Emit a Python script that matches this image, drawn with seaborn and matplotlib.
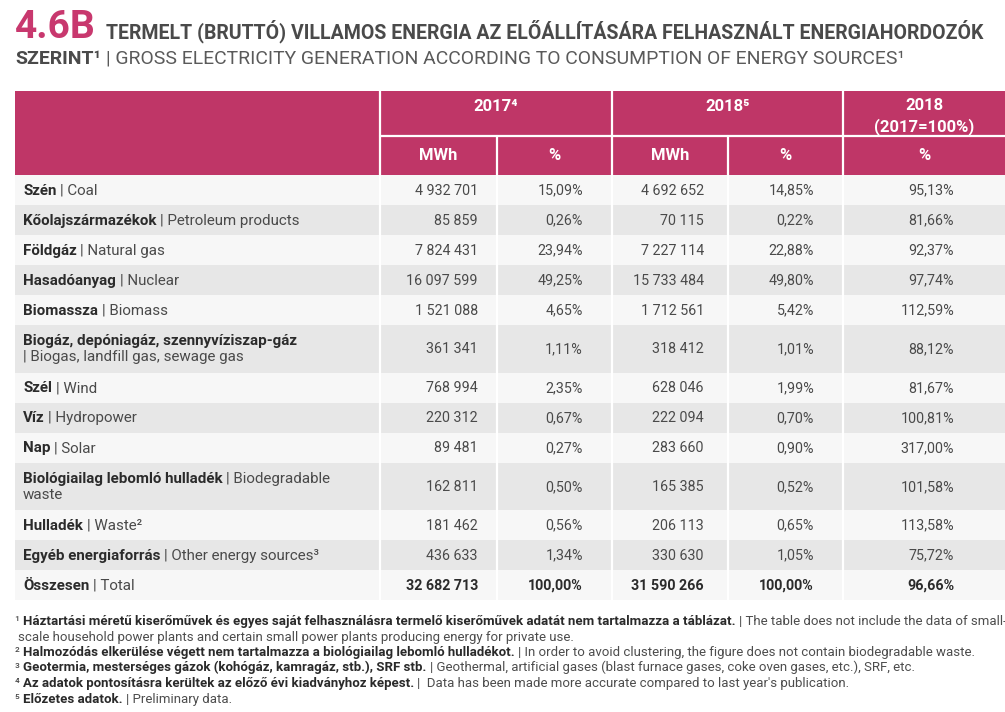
import matplotlib
matplotlib.use("Agg")
import matplotlib.pyplot as plt
import seaborn as sns
from matplotlib.patches import Rectangle

# --- data ---------------------------------------------------------------
sources_hu = ["Szén", "Kőolajszármazékok", "Földgáz", "Hasadóanyag", "Biomassza",
              "Biogáz, depóniagáz, szennyvíziszap-gáz", "Szél", "Víz", "Nap",
              "Biológiailag lebomló hulladék", "Hulladék", "Egyéb energiaforrás", "Összesen"]
sources_en = ["Coal", "Petroleum products", "Natural gas", "Nuclear", "Biomass",
              "\nBiogas, landfill gas, sewage gas", "Wind", "Hydropower", "Solar",
              "Biodegradable\nwaste", "Waste²", "Other energy sources³", "Total"]
mwh_2017 = [4932701, 85859, 7824431, 16097599, 1521088, 361341, 768994, 220312,
            89481, 162811, 181462, 436633, 32682713]
pct_2017 = [15.09, 0.26, 23.94, 49.25, 4.65, 1.11, 2.35, 0.67, 0.27, 0.50, 0.56, 1.34, 100.00]
mwh_2018 = [4692652, 70115, 7227114, 15733484, 1712561, 318412, 628046, 222094,
            283660, 165385, 206113, 330630, 31590266]
pct_2018 = [14.85, 0.22, 22.88, 49.80, 5.42, 1.01, 1.99, 0.70, 0.90, 0.52, 0.65, 1.05, 100.00]
index_2018 = [95.13, 81.66, 92.37, 97.74, 112.59, 88.12, 81.67, 100.81, 317.00,
              101.58, 113.58, 75.72, 96.66]

year_heads = ["2017⁴", "2018⁵", "2018\n(2017=100%)"]
unit_heads = ["MWh", "%", "MWh", "%", "%"]

title_no = "4.6B"
title_hu = "TERMELT (BRUTTÓ) VILLAMOS ENERGIA AZ ELŐÁLLÍTÁSÁRA FELHASZNÁLT ENERGIAHORDOZÓK"
title_hu2 = "SZERINT¹"
title_en = "GROSS ELECTRICITY GENERATION ACCORDING TO CONSUMPTION OF ENERGY SOURCES¹"

note_marks = ["¹", "²", "³", "⁴", "⁵"]
note_hu = ["Háztartási méretű kiserőművek és egyes saját felhasználásra termelő kiserőművek adatát nem tartalmazza a táblázat.",
           "Halmozódás elkerülése végett nem tartalmazza a biológiailag lebomló hulladékot.",
           "Geotermia, mesterséges gázok (kohógáz, kamragáz, stb.), SRF stb.",
           "Az adatok pontosításra kerültek az előző évi kiadványhoz képest.",
           "Előzetes adatok."]
note_en = ["The table does not include the data of small-\nscale household power plants and certain small power plants producing energy for private use.",
           "In order to avoid clustering, the figure does not contain biodegradable waste.",
           "Geothermal, artificial gases (blast furnace gases, coke oven gases, etc.), SRF, etc.",
           " Data has been made more accurate compared to last year's publication.",
           "Preliminary data."]

# --- style --------------------------------------------------------------
sns.set_theme(style="white")
BODY = ["Roboto", "DejaVu Sans"]
NARROW = ["Liberation Sans Narrow", "Roboto", "DejaVu Sans"]
plt.rcParams["font.family"] = BODY

PINK = "#bf3667"
TITLE_PINK = "#c8386e"
DARK = "#2b2b2b"
GREY = "#4a4a4a"
ROW_LIGHT = "#f7f7f7"
ROW_DARK = "#e7e7e7"


def fmt_int(v):
    return f"{v:,}".replace(",", " ")


def fmt_pct(v):
    return f"{v:.2f}".replace(".", ",") + "%"


fig = plt.figure(figsize=(10.05, 7.12), dpi=100)
ax = fig.add_axes([0, 0, 1, 1])
ax.set_xlim(0, 1005)
ax.set_ylim(712, 0)
ax.axis("off")
renderer = fig.canvas.get_renderer()


def space_w(size, **kw):
    a = ax.text(0, 0, "x x", fontsize=size, **kw)
    b = ax.text(0, 0, "xx", fontsize=size, **kw)
    w = a.get_window_extent(renderer).width - b.get_window_extent(renderer).width
    a.remove()
    b.remove()
    return w


def draw_runs(x0, y, parts, size, line_h):
    # parts: list of (text, kwargs); "\n" starts a new line at x0, leading space -> gap
    x = x0
    drawn = []
    for text, kw in parts:
        for i, seg in enumerate(text.split("\n")):
            if i > 0:
                x = x0
                y += line_h
            if seg.startswith(" "):
                x += space_w(size, **kw) * (len(seg) - len(seg.lstrip(" ")))
                seg = seg.lstrip(" ")
            if seg:
                t = ax.text(x, y, seg, fontsize=size, va="baseline", ha="left", **kw)
                x += t.get_window_extent(renderer).width
                drawn.append(t)
    return drawn, x


def fit_runs(x0, y, parts, size, line_h, x_end):
    drawn, x = draw_runs(x0, y, parts, size, line_h)
    for t in drawn:
        t.remove()
    size = size * (x_end - x0) / (x - x0)
    draw_runs(x0, y, parts, size, line_h)
    return size


# --- title --------------------------------------------------------------
ax.text(15, 38, title_no, fontsize=28, fontweight="bold", color=TITLE_PINK,
        family=BODY, va="baseline")
fit_runs(106, 38, [(title_hu, dict(fontweight="bold", color=GREY, family=NARROW))],
         13, 20, 980)
fit_runs(15, 64, [(title_hu2, dict(fontweight="bold", color=GREY, family=NARROW)),
                  (" | " + title_en, dict(color="#5a5a5a", family=NARROW))],
         13, 20, 903)

# --- table geometry -------------------------------------------------------
col_x = [15, 380, 497, 612, 728, 843, 1005]
num_right = [478, 583, 704, 814, 954]
head_top, head_mid, head_bot = 91, 135.5, 175
single_h, double_h = 30, 47.5

row_tops = []
row_hs = []
y = head_bot
for en in sources_en:
    h = double_h if "\n" in en else single_h
    row_tops.append(y)
    row_hs.append(h)
    y += h
table_bot = y

# header block
ax.add_patch(Rectangle((col_x[0], head_top), col_x[-1] - col_x[0], head_bot - head_top,
                       facecolor=PINK, edgecolor="none"))
# body stripes
for i, (top, h) in enumerate(zip(row_tops, row_hs)):
    ax.add_patch(Rectangle((col_x[0], top), col_x[-1] - col_x[0], h,
                           facecolor=ROW_LIGHT if i % 2 == 0 else ROW_DARK, edgecolor="none"))

# white separators
for cx in [col_x[1], col_x[3], col_x[5]]:
    ax.plot([cx, cx], [head_top, table_bot], color="white", lw=1.6)
for cx in [col_x[2], col_x[4]]:
    ax.plot([cx, cx], [head_mid, table_bot], color="white", lw=1.6)
ax.plot([col_x[1], col_x[-1]], [head_mid, head_mid], color="white", lw=1.6)

# header texts
HEAD = dict(color="white", fontweight="bold", fontsize=12, ha="center", family=BODY)
year_spans = [(col_x[1], col_x[3]), (col_x[3], col_x[5]), (col_x[5], col_x[6])]
for label, (a, b) in zip(year_heads, year_spans):
    if "\n" in label:
        top_line, bottom_line = label.split("\n")
        ax.text((a + b) / 2, 104, top_line, va="center_baseline", **HEAD)
        ax.text((a + b) / 2, 124.5, bottom_line, va="center_baseline", **HEAD)
    else:
        ax.text((a + b) / 2, 105, label, va="center_baseline", **HEAD)
for j, label in enumerate(unit_heads):
    ax.text((col_x[j + 1] + col_x[j + 2]) / 2, 154, label,
            va="center_baseline", **HEAD)

# body texts
NUM_SIZE = 10.3
LABEL_SIZE = 10.9
LINE_H = 16
for i, (hu, en) in enumerate(zip(sources_hu, sources_en)):
    top, h = row_tops[i], row_hs[i]
    n_lines = en.count("\n") + 1
    base = top + h / 2 + 4.6 - (n_lines - 1) * LINE_H / 2
    rest = "\n| " + en[1:] if en.startswith("\n") else " | " + en
    draw_runs(23, base, [(hu, dict(fontweight="bold", color=DARK)),
                         (rest, dict(color=GREY))], LABEL_SIZE, LINE_H)
    is_total = i == len(sources_hu) - 1
    vals = [fmt_int(mwh_2017[i]), fmt_pct(pct_2017[i]), fmt_int(mwh_2018[i]),
            fmt_pct(pct_2018[i]), fmt_pct(index_2018[i])]
    for xr, v in zip(num_right, vals):
        ax.text(xr, top + h / 2 + 4.6, v, fontsize=NUM_SIZE, ha="right", va="baseline",
                color=DARK if is_total else GREY,
                fontweight="bold" if is_total else "normal")

# --- footnotes ------------------------------------------------------------
NOTE_BOLD = dict(fontweight="bold", color="#2a2a2a", family=NARROW)
NOTE_REG = dict(color="#4d4d4d", family=NARROW)
note_y = [625, 656, 671.5, 687, 703]
first = note_en[0].split("\n")[0]
note_size = fit_runs(15, note_y[0], [(note_marks[0] + " ", NOTE_REG),
                                     (note_hu[0], NOTE_BOLD),
                                     (" | " + first, NOTE_REG)], 9, 15.5, 1003)
for t in list(ax.texts)[-3:]:
    t.remove()
for k, (mark, hu, en) in enumerate(zip(note_marks, note_hu, note_en)):
    en_text = en.replace("\n", "\n ")
    draw_runs(15, note_y[k], [(mark + " ", NOTE_REG), (hu, NOTE_BOLD),
                              (" | " + en_text, NOTE_REG)], note_size, 15.5)

fig.savefig("out.png", dpi=100)
